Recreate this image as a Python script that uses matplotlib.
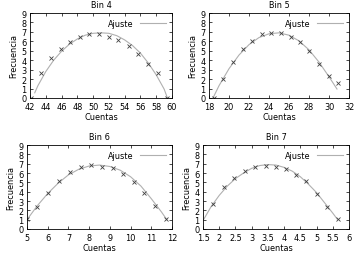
import matplotlib.pyplot as plt

# Bin 4
b4_x = [42.1, 43.4, 44.6, 45.9, 47.1, 48.4, 49.5, 50.8, 52.0, 53.2, 54.5, 55.7, 57.0, 58.2, 59.4]
b4_y = [0.0, 2.6, 4.2, 5.15, 5.95, 6.45, 6.75, 6.75, 6.5, 6.1, 5.5, 4.7, 3.55, 2.6, 0.0]
b4_fx = [42.6, 43.0, 44.0, 45.0, 46.0, 47.0, 48.0, 49.0, 50.0, 51.0, 52.0, 53.0, 54.0, 55.0, 56.0, 57.0, 58.0, 59.0, 59.4]
b4_fy = [0.55, 1.3, 2.8, 4.0, 4.95, 5.7, 6.25, 6.65, 6.85, 6.9, 6.85, 6.6, 6.15, 5.55, 4.75, 3.7, 2.45, 0.95, 0.05]

# Bin 5
b5_x = [18.5, 19.4, 20.4, 21.4, 22.3, 23.3, 24.2, 25.2, 26.2, 27.1, 28.0, 29.0, 30.0, 30.9]
b5_y = [0.0, 2.05, 3.8, 5.15, 6.0, 6.75, 6.85, 6.85, 6.5, 5.9, 5.0, 3.65, 2.3, 1.6]
b5_fx = [18.4, 19.0, 20.0, 21.0, 22.0, 23.0, 24.0, 25.0, 26.0, 27.0, 28.0, 29.0, 30.0, 30.8]
b5_fy = [0.0, 1.3, 3.1, 4.55, 5.65, 6.4, 6.8, 6.9, 6.65, 6.05, 5.1, 3.8, 2.25, 0.95]

# Bin 6
b6_x = [5.0, 5.5, 6.02, 6.53, 7.07, 7.6, 8.1, 8.62, 9.13, 9.64, 10.17, 10.67, 11.19, 11.69]
b6_y = [1.08, 2.33, 3.87, 5.09, 6.06, 6.62, 6.83, 6.69, 6.5, 5.92, 5.02, 3.9, 2.44, 1.1]
b6_fx = [5.0, 5.5, 6.0, 6.5, 7.0, 7.5, 8.0, 8.5, 9.0, 9.5, 10.0, 10.5, 11.0, 11.5, 11.75]
b6_fy = [1.0, 2.5, 3.8, 4.9, 5.8, 6.4, 6.75, 6.85, 6.7, 6.3, 5.6, 4.6, 3.25, 1.8, 1.0]

# Bin 7
b7_x = [1.81, 2.14, 2.46, 2.78, 3.1, 3.43, 3.75, 4.05, 4.37, 4.69, 5.0, 5.33, 5.66]
b7_y = [2.72, 4.5, 5.5, 6.2, 6.65, 6.8, 6.65, 6.38, 5.75, 5.09, 3.76, 2.33, 1.08]
b7_fx = [1.5, 1.75, 2.0, 2.25, 2.5, 2.75, 3.0, 3.25, 3.5, 3.75, 4.0, 4.25, 4.5, 4.75, 5.0, 5.25, 5.5, 5.65]
b7_fy = [0.9, 2.4, 3.6, 4.6, 5.4, 6.0, 6.5, 6.8, 6.9, 6.85, 6.6, 6.2, 5.6, 4.8, 3.9, 2.8, 1.7, 1.0]

panels = [
    ("Bin 4", b4_x, b4_y, b4_fx, b4_fy, (42, 60), [42, 44, 46, 48, 50, 52, 54, 56, 58, 60], [30, 172, 14, 99]),
    ("Bin 5", b5_x, b5_y, b5_fx, b5_fy, (18, 32), [18, 20, 22, 24, 26, 28, 30, 32], [209, 349, 14, 99]),
    ("Bin 6", b6_x, b6_y, b6_fx, b6_fy, (5, 12), [5, 6, 7, 8, 9, 10, 11, 12], [27, 172, 146, 230]),
    ("Bin 7", b7_x, b7_y, b7_fx, b7_fy, (1.5, 6), [1.5, 2, 2.5, 3, 3.5, 4, 4.5, 5, 5.5, 6], [203, 349, 146, 230]),
]

W, H = 354, 255
fs = 5.9
fig = plt.figure(figsize=(W / 100, H / 100), dpi=100)

for title, x, y, fx, fy, xlim, xticks, (l, r, t, b) in panels:
    ax = fig.add_axes([l / W, 1 - b / H, (r - l) / W, (b - t) / H])
    ax.plot(fx, fy, color='#b0b0b0', lw=0.8, label='Ajuste')
    ax.plot(x, y, 'x', color='#404040', ms=2.8, mew=0.6)
    ax.set_xlim(*xlim)
    ax.set_ylim(0, 9)
    ax.set_xticks(xticks)
    ax.set_xticklabels([f"{v:g}" for v in xticks])
    ax.set_yticks(range(10))
    ax.tick_params(direction='in', top=True, right=True, length=2, width=0.5,
                   labelsize=fs, pad=2.5)
    ax.tick_params(axis='x', pad=3)
    for s in ax.spines.values():
        s.set_linewidth(0.6)
    ax.set_title(title, fontsize=fs, pad=4)
    ax.set_xlabel("Cuentas", fontsize=fs, labelpad=0.5)
    ax.set_ylabel("Frecuencia", fontsize=fs, labelpad=2)
    ax.legend(loc='upper right', frameon=False, fontsize=fs, handlelength=3.2,
              markerfirst=False, borderaxespad=0.3)

fig.savefig("out.png", dpi=100)
